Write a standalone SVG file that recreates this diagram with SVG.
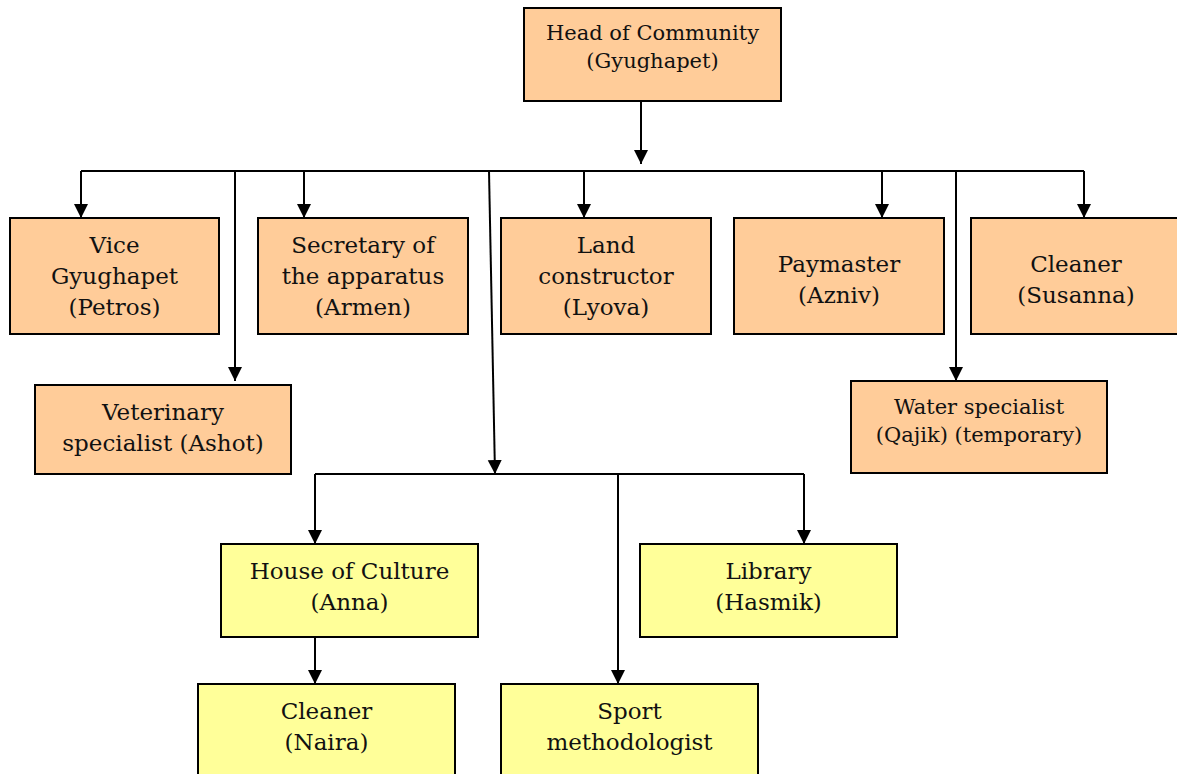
<svg xmlns="http://www.w3.org/2000/svg" width="1177" height="774" viewBox="0 0 1177 774">
<style>
.o{fill:#FFCC99;stroke:#000;stroke-width:2}
.y{fill:#FFFF99;stroke:#000;stroke-width:2}
text{font-family:"DejaVu Serif","Liberation Serif",serif;fill:#111;text-anchor:middle}
.l{font-size:23px}
.s{font-size:21px}
.c line{stroke:#000;stroke-width:2;fill:none}
</style>
<defs>
<marker id="a" markerWidth="16" markerHeight="16" refX="14" refY="7" orient="auto" markerUnits="userSpaceOnUse"><path d="M0,0 L14,7 L0,14 Z" fill="#000"/></marker>
</defs>
<rect width="1177" height="774" fill="#fff"/>
<g class="c">
<line x1="641" y1="101" x2="641" y2="164" marker-end="url(#a)"/>
<line x1="81" y1="171" x2="1084" y2="171"/>
<line x1="81" y1="171" x2="81" y2="218" marker-end="url(#a)"/>
<line x1="304" y1="171" x2="304" y2="218" marker-end="url(#a)"/>
<line x1="584" y1="171" x2="584" y2="218" marker-end="url(#a)"/>
<line x1="882" y1="171" x2="882" y2="218" marker-end="url(#a)"/>
<line x1="1084" y1="171" x2="1084" y2="218" marker-end="url(#a)"/>
<line x1="235" y1="171" x2="235" y2="381" marker-end="url(#a)"/>
<line x1="956" y1="171" x2="956" y2="381" marker-end="url(#a)"/>
<line x1="489" y1="171" x2="495" y2="474" marker-end="url(#a)"/>
<line x1="315" y1="474" x2="804" y2="474"/>
<line x1="315" y1="474" x2="315" y2="544" marker-end="url(#a)"/>
<line x1="804" y1="474" x2="804" y2="544" marker-end="url(#a)"/>
<line x1="618" y1="474" x2="618" y2="684" marker-end="url(#a)"/>
<line x1="315" y1="637" x2="315" y2="684" marker-end="url(#a)"/>
</g>
<g id="head"><rect class="o" x="524" y="8" width="257" height="93"/><text class="s" x="652.5" y="40">Head of Community</text><text class="s" x="652.5" y="68">(Gyughapet)</text></g>
<g id="vice"><rect class="o" x="10" y="218" width="209" height="116"/><text class="l" x="114.5" y="253">Vice</text><text class="l" x="114.5" y="284">Gyughapet</text><text class="l" x="114.5" y="315">(Petros)</text></g>
<g id="secretary"><rect class="o" x="258" y="218" width="210" height="116"/><text class="l" x="363" y="253">Secretary of</text><text class="l" x="363" y="284">the apparatus</text><text class="l" x="363" y="315">(Armen)</text></g>
<g id="land"><rect class="o" x="501" y="218" width="210" height="116"/><text class="l" x="606" y="253">Land</text><text class="l" x="606" y="284">constructor</text><text class="l" x="606" y="315">(Lyova)</text></g>
<g id="paymaster"><rect class="o" x="734" y="218" width="210" height="116"/><text class="l" x="839" y="272">Paymaster</text><text class="l" x="839" y="303">(Azniv)</text></g>
<g id="cleaner1"><rect class="o" x="971" y="218" width="210" height="116"/><text class="l" x="1076" y="272">Cleaner</text><text class="l" x="1076" y="303">(Susanna)</text></g>
<g id="vet"><rect class="o" x="35" y="385" width="256" height="89"/><text class="l" x="163" y="420">Veterinary</text><text class="l" x="163" y="451">specialist (Ashot)</text></g>
<g id="water"><rect class="o" x="851" y="381" width="256" height="92"/><text class="s" x="979" y="414">Water specialist</text><text class="s" x="979" y="442">(Qajik) (temporary)</text></g>
<g id="culture"><rect class="y" x="221" y="544" width="257" height="93"/><text class="l" x="349.5" y="579">House of Culture</text><text class="l" x="349.5" y="610">(Anna)</text></g>
<g id="library"><rect class="y" x="640" y="544" width="257" height="93"/><text class="l" x="768.5" y="579">Library</text><text class="l" x="768.5" y="610">(Hasmik)</text></g>
<g id="cleaner2"><rect class="y" x="198" y="684" width="257" height="100"/><text class="l" x="326.5" y="719">Cleaner</text><text class="l" x="326.5" y="750">(Naira)</text></g>
<g id="sport"><rect class="y" x="501" y="684" width="257" height="100"/><text class="l" x="629.5" y="719">Sport</text><text class="l" x="629.5" y="750">methodologist</text></g>
</svg>
